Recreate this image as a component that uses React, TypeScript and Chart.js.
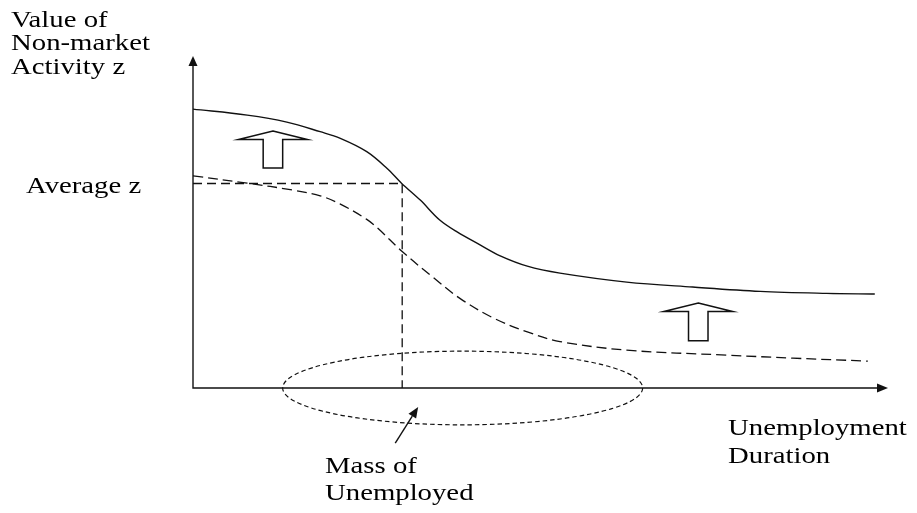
import React, { useEffect, useRef } from "react";
import { Chart, registerables } from "chart.js";

Chart.register(...registerables);

// Unemployment duration (0–100) and value of non-market activity z (0–100)
const durationSolid = [0, 7.8, 13.5, 18.3, 21.2, 25.0, 27.9, 30.0, 32.7, 35.5, 38.0, 41.3, 44.2, 48.1, 52.8, 62.4, 71.9, 81.6, 91.2, 98.1];
const valueSolid = [84.0, 82.2, 80.1, 77.2, 75.2, 71.2, 66.2, 61.7, 56.6, 50.6, 47.0, 43.1, 39.8, 36.7, 34.6, 31.9, 30.4, 29.1, 28.5, 28.3];

const durationDashed = [0, 7.8, 14.4, 18.3, 21.2, 25.0, 26.6, 30.1, 34.5, 38.4, 43.2, 48.1, 52.8, 62.4, 76.8, 86.3, 97.1];
const valueDashed = [63.9, 61.7, 59.6, 57.9, 55.4, 50.8, 48.1, 41.1, 33.4, 27.0, 21.1, 16.9, 14.0, 11.4, 9.9, 9.0, 8.1];

const averageZ = 61.6;
const averageDuration = 30.1;

// Mass of unemployed (ellipse): centre duration, half-width, half-height
const massCenter = 38.8;
const massHalfWidth = 25.9;
const massHalfHeight = 11.1;

// Upward shift arrows: duration, tip value, base value
const shiftX = [11.5, 72.7];
const shiftTip = [77.4, 25.6];
const shiftBase = [66.3, 14.2];

// Pointer arrow to the mass: from (x, y) to (x, y)
const pointerFrom = [29.1, -16.6];
const pointerTo = [32.4, -5.7];

const axisLabelY = ["Value of", "Non-market", "Activity z"];
const axisLabelX = ["Unemployment", "Duration"];
const massLabel = ["Mass of", "Unemployed"];
const averageLabel = "Average z";

const INK = "#111";
const FONT = '23px "Liberation Serif", "Times New Roman", serif';
const STRETCH = 1.25;

function drawText(ctx: CanvasRenderingContext2D, t: string, x: number, y: number) {
  ctx.save();
  ctx.translate(x, y);
  ctx.scale(STRETCH, 1);
  ctx.fillText(t, 0, 0);
  ctx.restore();
}

const diagramPlugin = {
  id: "diagram",
  afterDraw(chart: any) {
    const ctx: CanvasRenderingContext2D = chart.ctx;
    const { left, right, top, bottom } = chart.chartArea;
    const xs = chart.scales.x;
    const ys = chart.scales.y;
    ctx.save();
    ctx.strokeStyle = INK;
    ctx.fillStyle = INK;
    ctx.lineWidth = 1.4;
    ctx.setLineDash([]);

    // axes
    ctx.beginPath();
    ctx.moveTo(left, top + 6);
    ctx.lineTo(left, bottom);
    ctx.lineTo(right - 6, bottom);
    ctx.stroke();
    ctx.beginPath();
    ctx.moveTo(left, top);
    ctx.lineTo(left - 4.5, top + 10);
    ctx.lineTo(left + 4.5, top + 10);
    ctx.closePath();
    ctx.fill();
    ctx.beginPath();
    ctx.moveTo(right, bottom);
    ctx.lineTo(right - 11, bottom - 4.5);
    ctx.lineTo(right - 11, bottom + 4.5);
    ctx.closePath();
    ctx.fill();

    // ellipse
    const cx = xs.getPixelForValue(massCenter);
    const cy = ys.getPixelForValue(0);
    const rx = xs.getPixelForValue(massCenter + massHalfWidth) - cx;
    const ry = cy - ys.getPixelForValue(massHalfHeight);
    ctx.lineWidth = 1.2;
    ctx.setLineDash([4.5, 3]);
    ctx.beginPath();
    ctx.ellipse(cx, cy, rx, ry, 0, 0, Math.PI * 2);
    ctx.stroke();
    ctx.setLineDash([]);

    // shift arrows
    ctx.lineWidth = 1.5;
    for (let i = 0; i < shiftX.length; i++) {
      const ax = xs.getPixelForValue(shiftX[i]);
      const at = ys.getPixelForValue(shiftTip[i]);
      const ab = ys.getPixelForValue(shiftBase[i]);
      const hw = 34.5, sw = 9.75, hh = 8.5;
      ctx.beginPath();
      ctx.moveTo(ax, at);
      ctx.lineTo(ax + hw, at + hh);
      ctx.lineTo(ax + sw, at + hh);
      ctx.lineTo(ax + sw, ab);
      ctx.lineTo(ax - sw, ab);
      ctx.lineTo(ax - sw, at + hh);
      ctx.lineTo(ax - hw, at + hh);
      ctx.closePath();
      ctx.fillStyle = "#fff";
      ctx.fill();
      ctx.stroke();
    }
    ctx.fillStyle = INK;

    // pointer arrow
    const px0 = xs.getPixelForValue(pointerFrom[0]);
    const py0 = ys.getPixelForValue(pointerFrom[1]);
    const px1 = xs.getPixelForValue(pointerTo[0]);
    const py1 = ys.getPixelForValue(pointerTo[1]);
    const ang = Math.atan2(py1 - py0, px1 - px0);
    const hl = 11, hwid = 4.5;
    const bx = px1 - hl * Math.cos(ang);
    const by = py1 - hl * Math.sin(ang);
    ctx.lineWidth = 1.4;
    ctx.beginPath();
    ctx.moveTo(px0, py0);
    ctx.lineTo(bx, by);
    ctx.stroke();
    ctx.beginPath();
    ctx.moveTo(px1, py1);
    ctx.lineTo(bx + hwid * Math.sin(ang), by - hwid * Math.cos(ang));
    ctx.lineTo(bx - hwid * Math.sin(ang), by + hwid * Math.cos(ang));
    ctx.closePath();
    ctx.fill();

    // texts
    ctx.font = FONT;
    ctx.textAlign = "left";
    ctx.textBaseline = "alphabetic";
    ctx.fillStyle = "#000";
    const yBase = [27, 50, 74];
    axisLabelY.forEach((t, i) => drawText(ctx, t, 11, yBase[i]));
    drawText(ctx, averageLabel, 26, 193);
    const xBase = [435, 463];
    axisLabelX.forEach((t, i) => drawText(ctx, t, 728, xBase[i]));
    const mBase = [473, 500];
    massLabel.forEach((t, i) => drawText(ctx, t, 325, mBase[i]));

    ctx.restore();
  },
};

export default function App() {
  const ref = useRef<HTMLCanvasElement | null>(null);
  useEffect(() => {
    if (!ref.current) return;
    const chart = new Chart(ref.current, {
      type: "line",
      data: {
        datasets: [
          {
            data: durationSolid.map((x, i) => ({ x, y: valueSolid[i] })),
            borderColor: INK,
            borderWidth: 1.4,
            pointRadius: 0,
            tension: 0.35,
            fill: false,
          },
          {
            data: durationDashed.map((x, i) => ({ x, y: valueDashed[i] })),
            borderColor: INK,
            borderWidth: 1.3,
            borderDash: [10, 5],
            pointRadius: 0,
            tension: 0.35,
            fill: false,
          },
          {
            data: [
              { x: 0, y: averageZ },
              { x: averageDuration, y: averageZ },
              { x: averageDuration, y: 0 },
            ],
            borderColor: INK,
            borderWidth: 1.3,
            borderDash: [9, 5],
            pointRadius: 0,
            tension: 0,
            fill: false,
          },
        ],
      },
      options: {
        animation: false,
        responsive: true,
        maintainAspectRatio: false,
        layout: { padding: { left: 193, right: 29, top: 56, bottom: 125 } },
        plugins: { legend: { display: false }, tooltip: { enabled: false }, title: { display: false } },
        events: [],
        scales: {
          x: { type: "linear", min: 0, max: 100, display: false },
          y: { type: "linear", min: 0, max: 100, display: false },
        },
      },
      plugins: [diagramPlugin],
    } as any);
    return () => chart.destroy();
  }, []);
  return (
    <div style={{ position: "fixed", left: 0, top: 0, width: 917, height: 513, background: "#fff" }}>
      <canvas ref={ref} />
    </div>
  );
}
